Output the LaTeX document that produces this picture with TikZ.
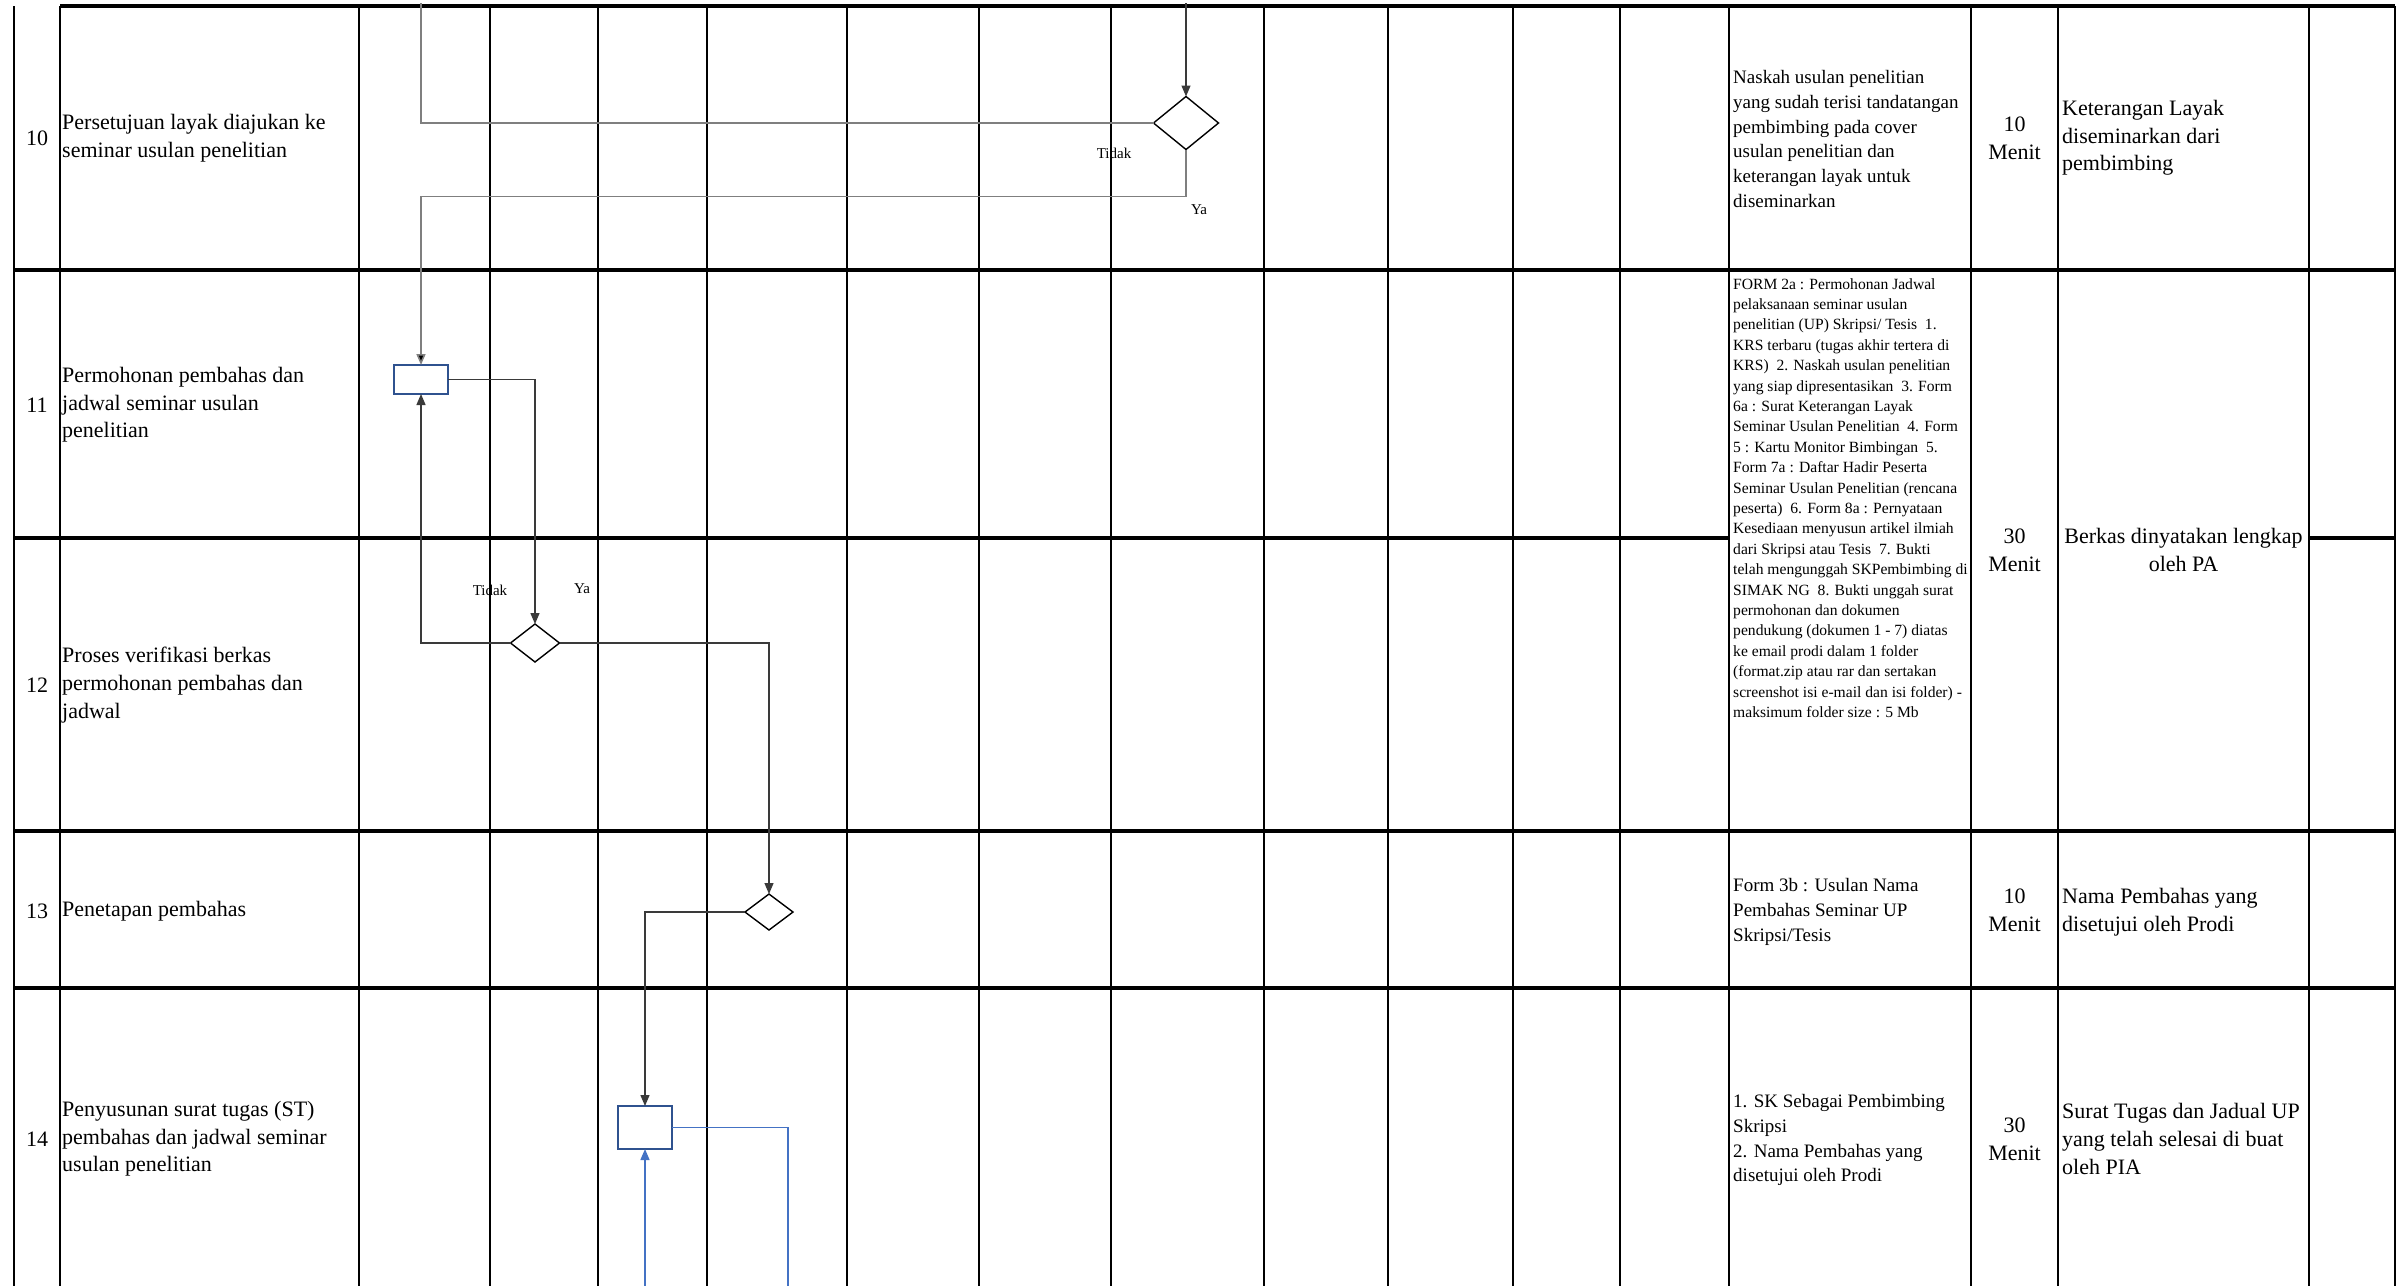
\documentclass[tikz,border=0pt]{standalone}
\usepackage{fontspec}
\setmainfont{Liberation Serif}
\usetikzlibrary{arrows.meta,shapes.geometric}
\definecolor{boxblue}{HTML}{2F528F}
\definecolor{lineblue}{HTML}{4472C4}
\definecolor{conn}{HTML}{3A3A3A}
\definecolor{connlight}{HTML}{7F7F7F}
\begin{document}
\begin{tikzpicture}[x=1pt,y=-1pt,
  vline/.style={line width=2.2pt,black},
  hline/.style={line width=3.2pt,black},
  num/.style={font=\fontsize{22}{27.6}\selectfont,inner sep=0pt,anchor=center},
  desc/.style={font=\fontsize{22}{27.6}\selectfont,align=left,anchor=west,inner sep=0pt},
  smalltxt/.style={font=\fontsize{19}{24.9}\selectfont,align=left,anchor=west,inner sep=0pt},
  tinytxt/.style={font=\fontsize{15.6}{20.4}\selectfont,align=left,anchor=north west,inner sep=0pt},
  wkt/.style={font=\fontsize{22}{27.6}\selectfont,align=center,anchor=center,inner sep=0pt},
  lbl/.style={font=\fontsize{15}{18}\selectfont,inner sep=0pt,anchor=center},
  procbox/.style={draw=boxblue,line width=2pt,rectangle,inner sep=0pt,outer sep=0pt,fill=white},
  decide/.style={draw=black,line width=1.4pt,diamond,inner sep=0pt,outer sep=0pt,fill=white},
  arr/.style={draw=conn,line width=1.3pt,-{Triangle[length=11pt,width=9pt]}},
  arrlight/.style={draw=connlight,line width=1.6pt,-{Triangle[length=11pt,width=9pt,fill=black]}},
  plainlight/.style={draw=connlight,line width=1.6pt},
  blueline/.style={draw=lineblue,line width=1.5pt},
  bluearr/.style={draw=lineblue,line width=1.5pt,-{Triangle[length=11pt,width=9pt]}}
]
\useasboundingbox (0,0) rectangle (2403,1285);
\clip (0,0) rectangle (2403,1285);

% ---------- grid ----------
\foreach \x in {14,60,359,490,598,707,847,979,1111,1264,1388,1513,1620,1729,1971,2058,2309,2395}
  \draw[vline] (\x,6) -- (\x,1295);
\draw[hline] (60,6) -- (2395,6);
\draw[hline] (14,270) -- (2395,270);
\draw[hline] (14,538) -- (1729,538);
\draw[hline] (2309,538) -- (2395,538);
\draw[hline] (14,831) -- (2395,831);
\draw[hline] (14,988) -- (2395,988);

% ---------- row 10 ----------
\node[num] (n10) at (37,138) {10};
\node[desc] (t10) at (62,138) {Persetujuan layak diajukan ke\\seminar usulan penelitian};
\node[smalltxt] (k10) at (1733,139) {Naskah usulan penelitian\\yang sudah terisi tandatangan\\pembimbing pada cover\\usulan penelitian dan\\keterangan layak untuk\\diseminarkan};
\node[wkt] (w10) at (2014.5,138) {10\\Menit};
\node[desc] (o10) at (2062,138) {Keterangan Layak\\diseminarkan dari\\pembimbing};

% ---------- row 11 ----------
\node[num] (n11) at (37,405) {11};
\node[desc] (t11) at (62,405) {Permohonan pembahas dan\\jadwal seminar usulan\\penelitian};

% ---------- row 12 ----------
\node[num] (n12) at (37,685) {12};
\node[desc] (t12) at (62,685) {Proses verifikasi berkas\\permohonan pembahas dan\\jadwal};

% ---------- rows 11-12 merged cells ----------
\node[tinytxt] (k11) at (1733,278) {FORM 2a : Permohonan Jadwal\\pelaksanaan seminar usulan\\penelitian (UP) Skripsi/ Tesis\ \ 1.\\KRS terbaru (tugas akhir tertera di\\KRS)\ \ 2. Naskah usulan penelitian\\yang siap dipresentasikan\ \ 3. Form\\6a : Surat Keterangan Layak\\Seminar Usulan Penelitian\ \ 4. Form\\5 : Kartu Monitor Bimbingan\ \ 5.\\Form 7a : Daftar Hadir Peserta\\Seminar Usulan Penelitian (rencana\\peserta)\ \ 6. Form 8a : Pernyataan\\Kesediaan menyusun artikel ilmiah\\dari Skripsi atau Tesis\ \ 7. Bukti\\telah mengunggah SKPembimbing di\\SIMAK NG\ \ 8. Bukti unggah surat\\permohonan dan dokumen\\pendukung (dokumen 1 - 7) diatas\\ke email prodi dalam 1 folder\\(format.zip atau rar dan sertakan\\screenshot isi e-mail dan isi folder) -\\maksimum folder size : 5 Mb};
\node[wkt] (w11) at (2014.5,550) {30\\Menit};
\node[wkt] (o11) at (2183.5,550) {Berkas dinyatakan lengkap\\oleh PA};

% ---------- row 13 ----------
\node[num] (n13) at (37,911) {13};
\node[desc] (t13) at (62,911) {Penetapan pembahas};
\node[smalltxt] (k13) at (1733,912) {Form 3b : Usulan Nama\\Pembahas Seminar UP\\Skripsi/Tesis};
\node[wkt] (w13) at (2014.5,910) {10\\Menit};
\node[desc] (o13) at (2062,912) {Nama Pembahas yang\\disetujui oleh Prodi};

% ---------- row 14 ----------
\node[num] (n14) at (37,1139) {14};
\node[desc] (t14) at (62,1139) {Penyusunan surat tugas (ST)\\pembahas dan jadwal seminar\\usulan penelitian};
\node[smalltxt] (k14) at (1733,1140) {1. SK Sebagai Pembimbing\\Skripsi\\2. Nama Pembahas yang\\disetujui oleh Prodi};
\node[wkt] (w14) at (2014.5,1139) {30\\Menit};
\node[desc] (o14) at (2062,1139) {Surat Tugas dan Jadual UP\\yang telah selesai di buat\\oleh PIA};

% ---------- flow shapes ----------
\node[decide,minimum width=65pt,minimum height=53pt] (d10) at (1186,123) {};
\node[procbox,minimum width=54pt,minimum height=29pt] (b11) at (421,379.5) {};
\node[decide,minimum width=49pt,minimum height=38pt] (d12) at (535,643) {};
\node[decide,minimum width=48pt,minimum height=36pt] (d13) at (769,912) {};
\node[procbox,minimum width=54pt,minimum height=43pt] (b14) at (645,1127.5) {};

\coordinate (top1) at (1186,3);
\coordinate (top2) at (421,3);
\coordinate (bot1) at (645,1290);
\coordinate (bot2) at (788,1290);

% ---------- connectors ----------
\draw[arr] (top1) -- (d10.north);
\draw[plainlight] (d10.west) -- (top2 |- d10.west) -- (top2);
\draw[arrlight] (d10.south) -- ++(0,47) -| (b11.north);
\draw[arr] (b11.east) -| (d12.north);
\draw[arr] (d12.west) -| (b11.south);
\draw[arr] (d12.east) -| (d13.north);
\draw[arr] (d13.west) -| (b14.north);
\draw[blueline] (b14.east) -| (bot2);
\draw[bluearr] (bot1) -- (b14.south);

% ---------- branch labels ----------
\node[lbl] (l10t) at (1114,153) {Tidak};
\node[lbl] (l10y) at (1199,210) {Ya};
\node[lbl] (l12t) at (490,590) {Tidak};
\node[lbl] (l12y) at (582,589) {Ya};
\end{tikzpicture}
\end{document}
